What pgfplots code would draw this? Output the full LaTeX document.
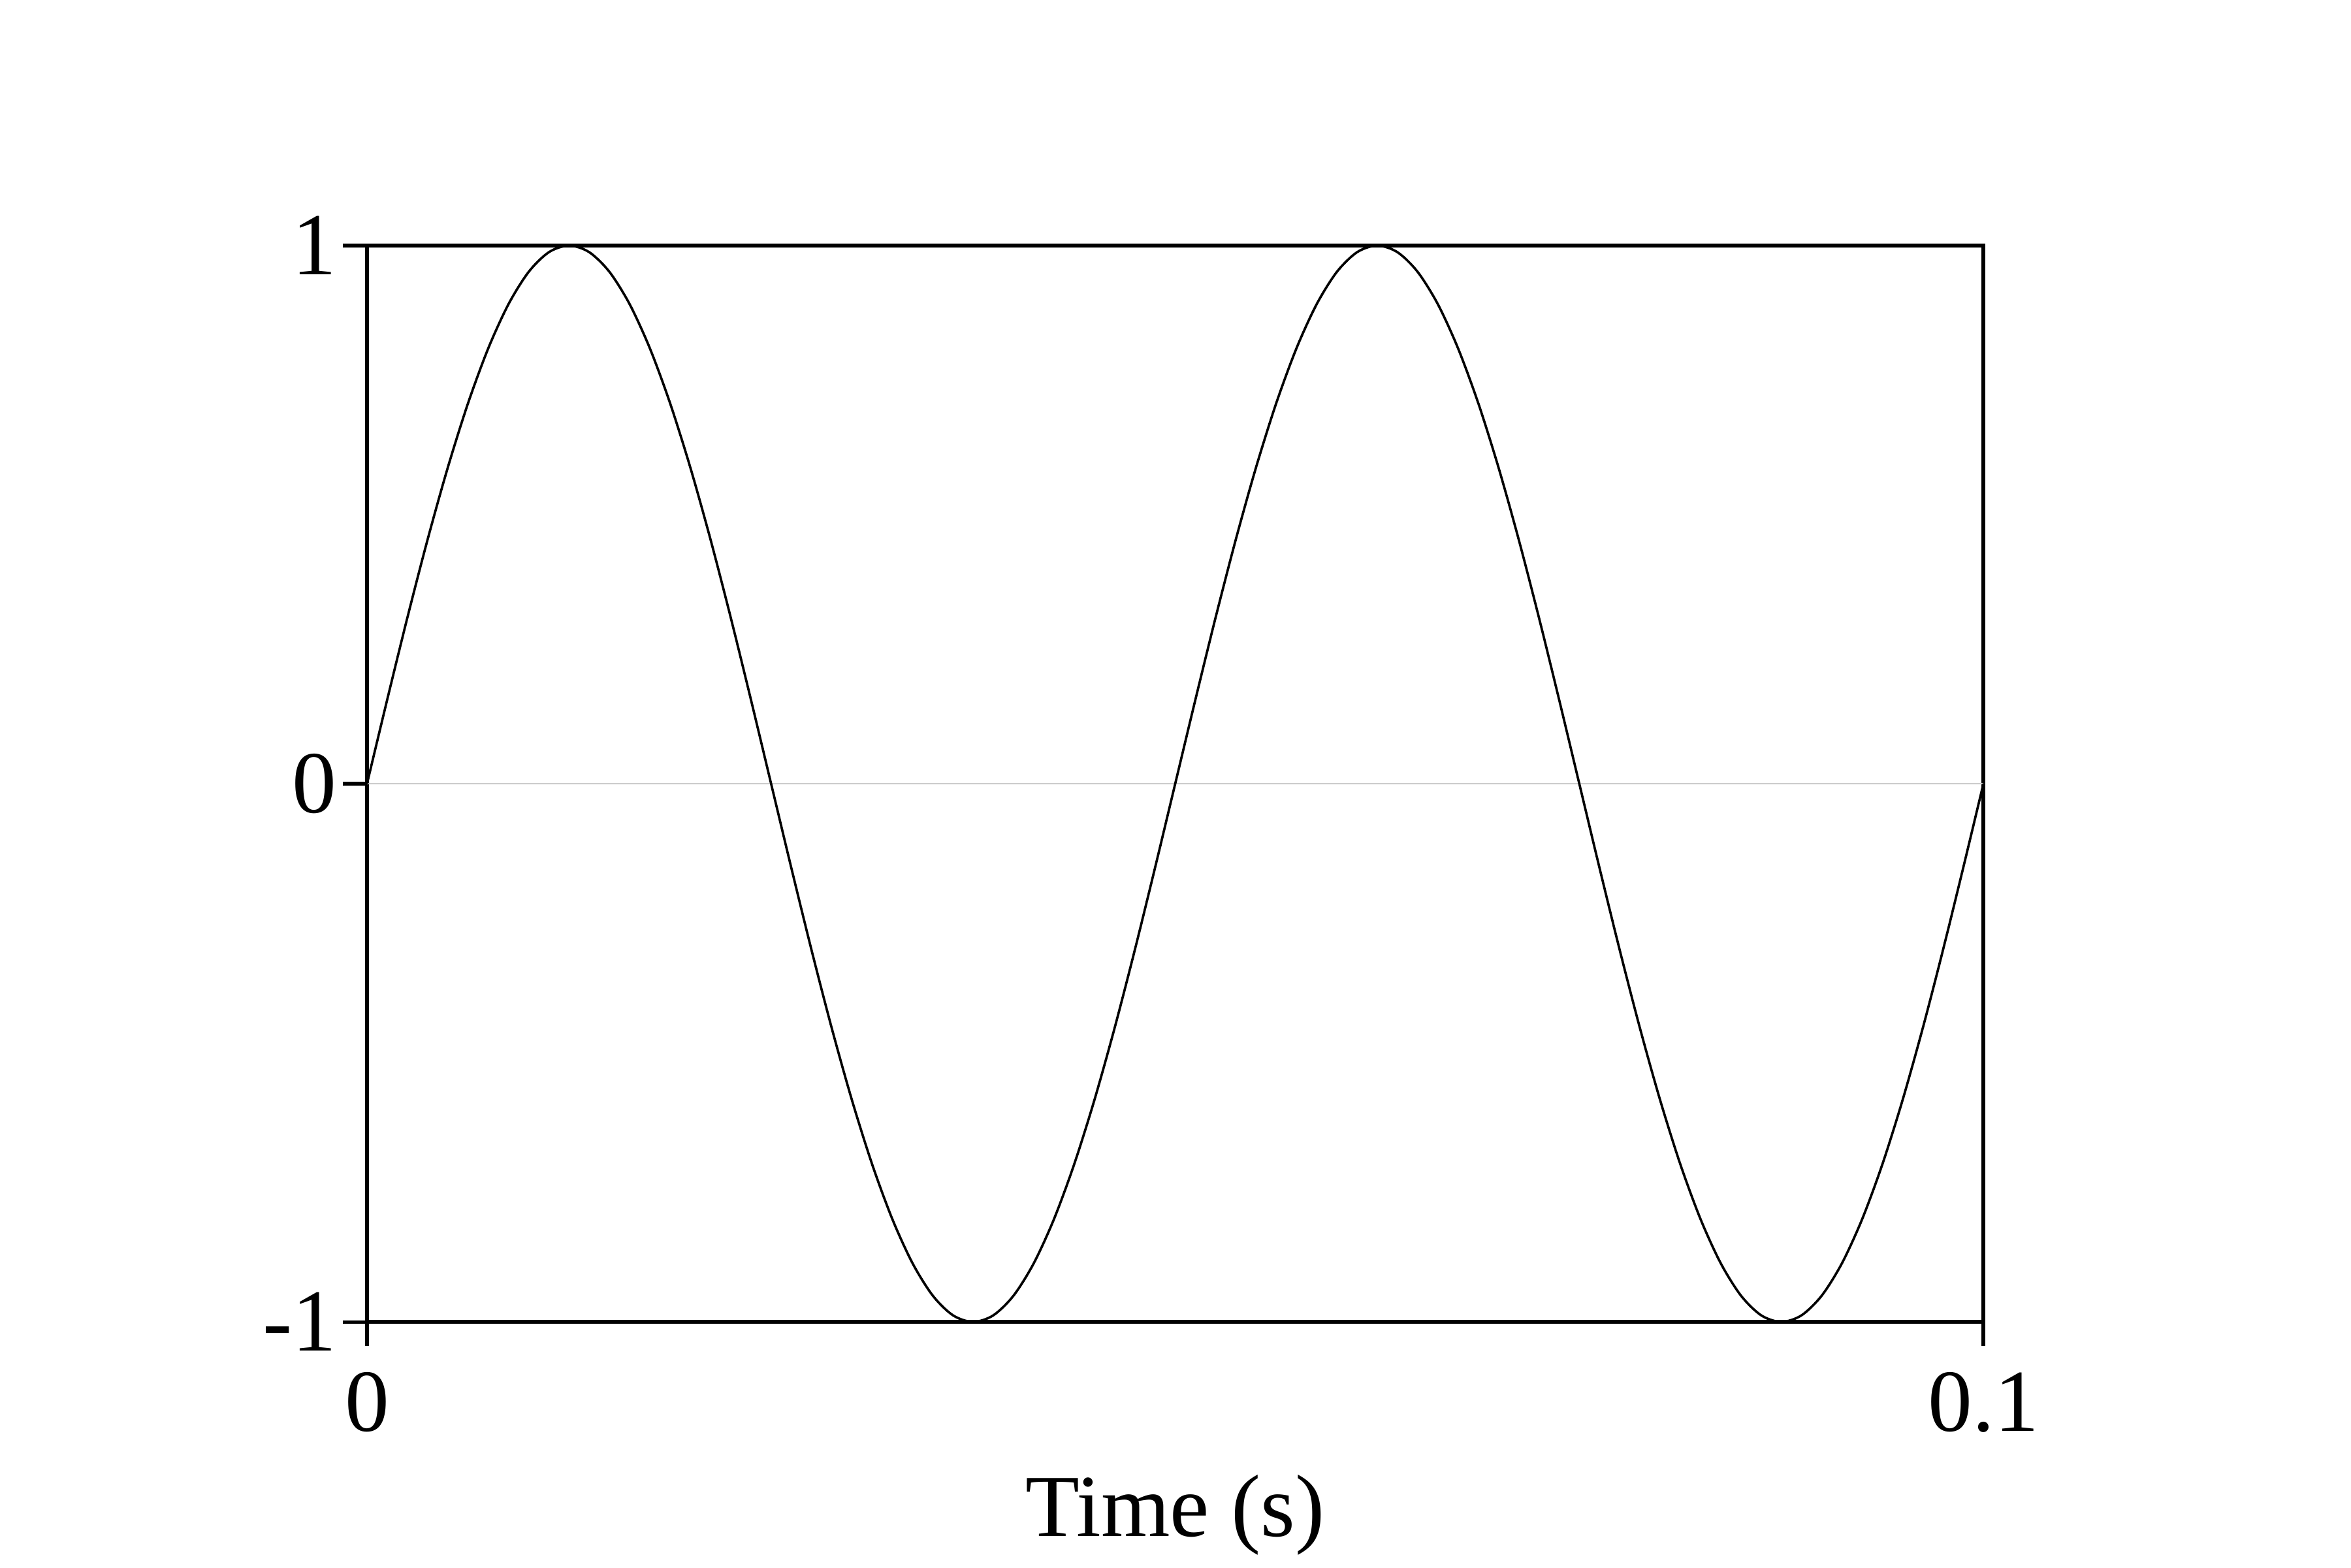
\documentclass[border=0pt]{standalone}
\usepackage{fontspec}
\setmainfont{Liberation Serif}
\usepackage{pgfplots}
\pgfplotsset{compat=1.18}
\usepackage{pgfplotstable}

% 20 Hz sine, sampled every 1.25 ms
\pgfplotstableread{
t y
0.00000 0
0.00125 0.1564
0.00250 0.3090
0.00375 0.4540
0.00500 0.5878
0.00625 0.7071
0.00750 0.8090
0.00875 0.8910
0.01000 0.9511
0.01125 0.9877
0.01250 1
0.01375 0.9877
0.01500 0.9511
0.01625 0.8910
0.01750 0.8090
0.01875 0.7071
0.02000 0.5878
0.02125 0.4540
0.02250 0.3090
0.02375 0.1564
0.02500 0
0.02625 -0.1564
0.02750 -0.3090
0.02875 -0.4540
0.03000 -0.5878
0.03125 -0.7071
0.03250 -0.8090
0.03375 -0.8910
0.03500 -0.9511
0.03625 -0.9877
0.03750 -1
0.03875 -0.9877
0.04000 -0.9511
0.04125 -0.8910
0.04250 -0.8090
0.04375 -0.7071
0.04500 -0.5878
0.04625 -0.4540
0.04750 -0.3090
0.04875 -0.1564
0.05000 0
0.05125 0.1564
0.05250 0.3090
0.05375 0.4540
0.05500 0.5878
0.05625 0.7071
0.05750 0.8090
0.05875 0.8910
0.06000 0.9511
0.06125 0.9877
0.06250 1
0.06375 0.9877
0.06500 0.9511
0.06625 0.8910
0.06750 0.8090
0.06875 0.7071
0.07000 0.5878
0.07125 0.4540
0.07250 0.3090
0.07375 0.1564
0.07500 0
0.07625 -0.1564
0.07750 -0.3090
0.07875 -0.4540
0.08000 -0.5878
0.08125 -0.7071
0.08250 -0.8090
0.08375 -0.8910
0.08500 -0.9511
0.08625 -0.9877
0.08750 -1
0.08875 -0.9877
0.09000 -0.9511
0.09125 -0.8910
0.09250 -0.8090
0.09375 -0.7071
0.09500 -0.5878
0.09625 -0.4540
0.09750 -0.3090
0.09875 -0.1564
0.10000 0
}\sinedata

\begin{document}
\begin{tikzpicture}
\begin{axis}[
  scale only axis,
  width=10.781cm,
  height=7.179cm,
  xmin=0, xmax=0.1,
  ymin=-1, ymax=1,
  xtick={0,0.1}, xticklabels={0,0.1},
  ytick={-1,0,1}, yticklabels={-1,0,1},
  xtick pos=bottom, ytick pos=left,
  tick align=outside,
  major tick length=0.16cm,
  axis line style={line width=0.75pt},
  every tick/.style={black, line width=0.65pt},
  tick label style={font=\fontsize{16.8}{19}\selectfont},
  xticklabel style={yshift=-0.05cm},
  yticklabel style={xshift=0.08cm},
  xlabel={Time (s)},
  xlabel style={font=\fontsize{16.8}{20}\selectfont, at={(rel axis cs:0.5,0)}, anchor=base, yshift=-1.43cm},
]
\addplot[gray!40, line width=0.3pt] coordinates {(0,0) (0.1,0)};
\addplot[black, line width=0.45pt, smooth] table[x=t, y=y] {\sinedata};
\end{axis}
\pgfresetboundingbox
\path ([xshift=-2.448cm, yshift=-1.638cm]current axis.south west)
  rectangle ([xshift=2.452cm, yshift=1.638cm]current axis.north east);
\end{tikzpicture}
\end{document}
